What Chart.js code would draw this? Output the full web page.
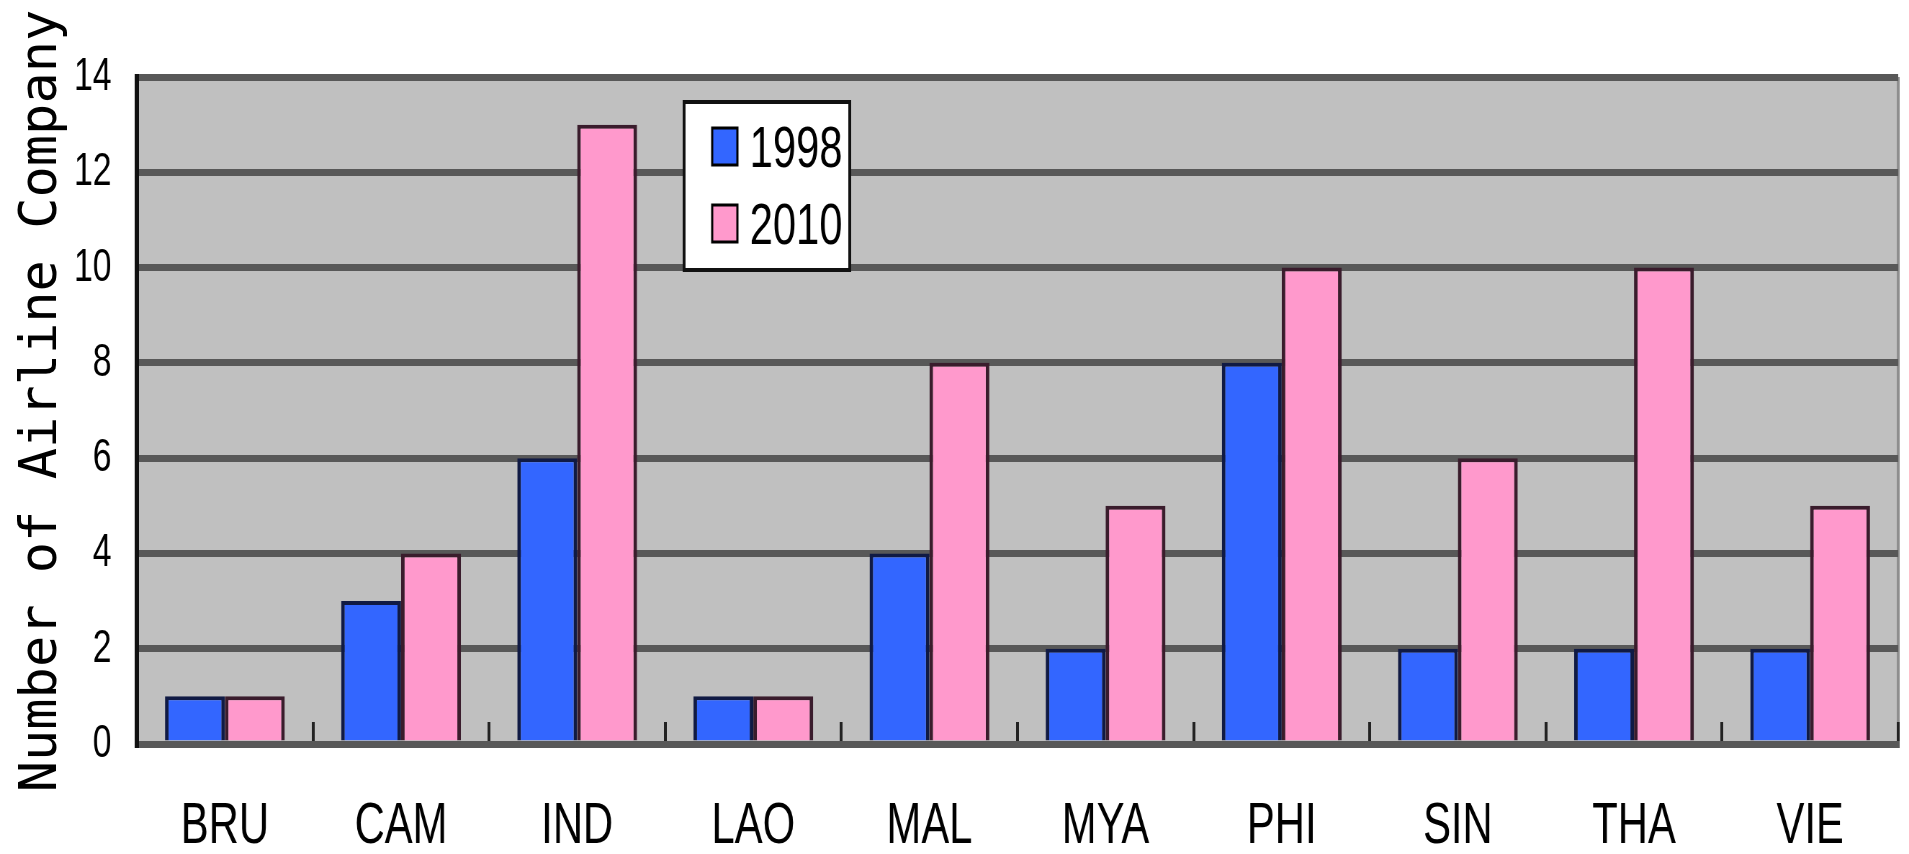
<!DOCTYPE html>
<html>
<head>
<meta charset="utf-8">
<script src="https://cdn.jsdelivr.net/npm/chart.js@4.4.1/dist/chart.umd.min.js"></script>
<style>
  html, body { margin: 0; padding: 0; background: #fff; overflow: hidden; }
  #wrap { position: relative; width: 1909px; height: 854px; }
  #ytitle {
    position: absolute; left: -366px; top: 375px; width: 800px; height: 52px;
    line-height: 52px; font: 52px 'DejaVu Sans Mono', monospace; color: #000;
    text-align: center; white-space: nowrap; transform: rotate(-90deg);
  }
</style>
</head>
<body>
<div id="wrap">
  <!-- drawn 2651 wide and squeezed to 1909 so the text comes out condensed like the original -->
  <canvas id="chart" width="2651" height="854" style="display:block;width:1909px;height:854px"></canvas>
  <div id="ytitle">Number of Airline Company</div>
</div>
<script>
const countries = ['BRU', 'CAM', 'IND', 'LAO', 'MAL', 'MYA', 'PHI', 'SIN', 'THA', 'VIE'];
const seriesNames = ['1998', '2010'];
const airlines1998 = [1, 3, 6, 1, 4, 2, 8, 2, 2, 2];
const airlines2010 = [1, 4, 13, 1, 8, 5, 10, 6, 10, 5];
const yTicks = [0, 2, 4, 6, 8, 10, 12, 14];

// grey plot background + right edge line
const plotBackground = {
    id: 'plotBackground',
    beforeDraw(chart) {
        const { ctx, chartArea: a } = chart;
        ctx.save();
        ctx.fillStyle = '#c0c0c0';
        ctx.fillRect(a.left, a.top, a.right - a.left, a.bottom - a.top);
        ctx.fillStyle = '#8e8e8e';
        ctx.fillRect(a.right - 2, a.top, 4, a.bottom - a.top);
        ctx.restore();
    }
};

// boxed legend sitting inside the plot
const boxLegend = {
    id: 'boxLegend',
    afterDraw(chart) {
        const ctx = chart.ctx;
        ctx.save();
        ctx.fillStyle = '#fff';
        ctx.fillRect(950, 102, 230, 168);
        ctx.lineWidth = 4;
        ctx.strokeStyle = '#111';
        ctx.strokeRect(950, 102, 230, 168);
        chart.data.datasets.forEach((ds, i) => {
            const y = 128 + i * 77;
            ctx.fillStyle = ds.backgroundColor;
            ctx.fillRect(989, y, 35, 37);
            ctx.lineWidth = 3;
            ctx.strokeStyle = '#000';
            ctx.strokeRect(989, y, 35, 37);
            ctx.fillStyle = '#000';
            ctx.font = '58px "Liberation Sans", Arial, sans-serif';
            ctx.textBaseline = 'alphabetic';
            ctx.fillText(ds.label, 1041, y + 39);
        });
        ctx.restore();
    }
};

const ctx = document.getElementById('chart').getContext('2d');
new Chart(ctx, {
    type: 'bar',
    data: {
        labels: countries,
        datasets: [
            {
                label: seriesNames[0],
                data: airlines1998,
                backgroundColor: '#3366ff',
                borderColor: '#101a44',
                borderWidth: { top: 4, left: 5, right: 5, bottom: 0 },
                categoryPercentage: 0.68,
                barPercentage: 1.0
            },
            {
                label: seriesNames[1],
                data: airlines2010,
                backgroundColor: '#ff99cc',
                borderColor: '#3a1c2c',
                borderWidth: { top: 4, left: 5, right: 5, bottom: 0 },
                categoryPercentage: 0.68,
                barPercentage: 1.0
            }
        ]
    },
    options: {
        responsive: false,
        devicePixelRatio: 1,
        animation: false,
        layout: { padding: { top: 77, right: 15, bottom: 0, left: 0 } },
        plugins: {
            legend: { display: false },
            tooltip: { enabled: false }
        },
        scales: {
            x: {
                grid: {
                    display: true,
                    offset: true,
                    drawOnChartArea: false,
                    drawTicks: true,
                    tickLength: -22,
                    color: '#222',
                    lineWidth: 4
                },
                border: { display: true, color: '#585858', width: 7 },
                ticks: {
                    color: '#000',
                    font: { family: '"Liberation Sans", Arial, sans-serif', size: 58 },
                    padding: 70,
                    maxRotation: 0,
                    autoSkip: false
                },
                afterFit: (scale) => { scale.height = 110; }
            },
            y: {
                min: 0,
                max: 14,
                afterBuildTicks: (scale) => { scale.ticks = yTicks.map(v => ({ value: v })); },
                grid: { color: '#585858', lineWidth: 7, drawTicks: false },
                border: { display: true, color: '#111', width: 6 },
                ticks: {
                    color: '#000',
                    font: { family: '"Liberation Sans", Arial, sans-serif', size: 47 },
                    padding: 35
                },
                afterFit: (scale) => { scale.width = 190; }
            }
        }
    },
    plugins: [plotBackground, boxLegend]
});
</script>
</body>
</html>
